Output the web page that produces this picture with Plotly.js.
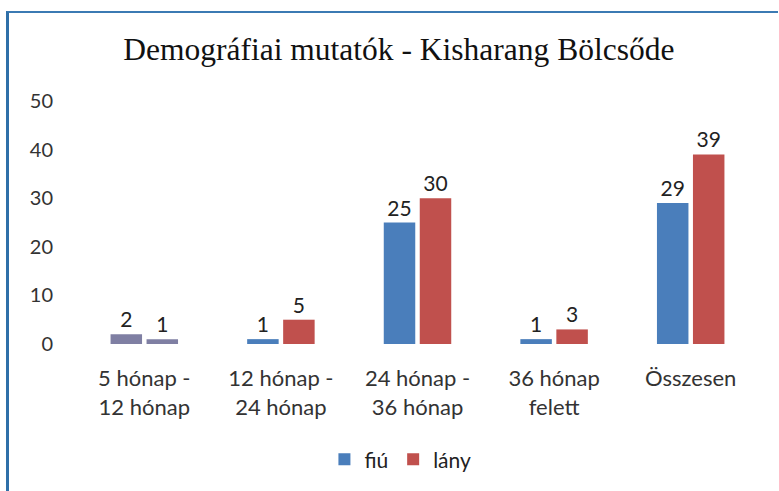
<!DOCTYPE html>
<html>
<head>
<meta charset="utf-8">
<script src="https://cdn.plot.ly/plotly-3.0.1.min.js"></script>
<style>
html,body{margin:0;padding:0;background:#fff;}
#wrap{position:relative;width:779px;height:491px;overflow:hidden;}
#frame{position:absolute;left:6px;top:11px;width:772px;height:490px;border-left:3px solid #2f6fa8;border-top:2px solid #3b7ab3;box-sizing:border-box;}
#chart{position:absolute;left:0;top:0;width:779px;height:491px;}
</style>
</head>
<body>
<div id="wrap"><div id="frame"></div><div id="chart"></div></div>
<script>
const categories = ["5 hónap -<br>12 hónap", "12 hónap -<br>24 hónap", "24 hónap -<br>36 hónap", "36 hónap<br>felett", "Összesen"];
const fiu = [2, 1, 25, 1, 29];
const lany = [1, 5, 30, 3, 39];
const seriesNames = ["fiú", "lány"];
const titleText = "Demográfiai mutatók - Kisharang Bölcsőde";

const blue = "#4a7ebb", red = "#c0504d", gray = "#7f7fa3";
const fiuColors = fiu.map((v, i) => i === 0 ? gray : blue);
const lanyColors = lany.map((v, i) => i === 0 ? gray : red);
const fam = "Lato, 'Open Sans', sans-serif";
const lblFont = {family: fam, size: 21, color: "#222"};

const traces = [
  {type: "bar", name: seriesNames[0], x: categories, y: fiu, marker: {color: fiuColors},
   text: fiu.map(String), textposition: "outside", textfont: lblFont, cliponaxis: false,
   hoverinfo: "none", showlegend: false},
  {type: "bar", name: seriesNames[1], x: categories, y: lany, marker: {color: lanyColors},
   text: lany.map(String), textposition: "outside", textfont: lblFont, cliponaxis: false,
   hoverinfo: "none", showlegend: false},
  // legend entries (on a hidden overlay axis so they don't affect bar grouping)
  {type: "bar", name: seriesNames[0], x: [categories[0]], y: [null], marker: {color: blue},
   xaxis: "x2", yaxis: "y2", hoverinfo: "none"},
  {type: "bar", name: seriesNames[1], x: [categories[0]], y: [null], marker: {color: red},
   xaxis: "x2", yaxis: "y2", hoverinfo: "none"}
];

const layout = {
  width: 779, height: 491,
  paper_bgcolor: "rgba(0,0,0,0)", plot_bgcolor: "rgba(0,0,0,0)",
  margin: {l: 75.6, r: 19.6, t: 101, b: 146},
  title: {text: titleText, x: 0.512, xanchor: "center", y: 0.9, yanchor: "middle",
          font: {family: "'Liberation Serif', 'Times New Roman', serif", size: 31.5, color: "#111"}},
  barmode: "group", bargap: 0.473, bargroupgap: 0.125,
  xaxis: {showline: false, showgrid: false, zeroline: false, ticks: "", ticklabelstandoff: 19,
          tickfont: {family: fam, size: 22, color: "#333"}},
  yaxis: {range: [0, 50], dtick: 10, showgrid: false, zeroline: false, showline: false, ticks: "",
          ticklabelstandoff: 22,
          tickfont: {family: fam, size: 20, color: "#333"}},
  xaxis2: {overlaying: "x", visible: false},
  yaxis2: {overlaying: "y", visible: false, range: [0, 50]},
  showlegend: true,
  legend: {orientation: "h", x: 0.475, xanchor: "center", y: -0.47, yanchor: "middle",
           font: {family: fam, size: 21, color: "#222"},
           itemwidth: 30, traceorder: "normal"}
};

Plotly.newPlot("chart", traces, layout, {displayModeBar: false, staticPlot: true});
</script>
</body>
</html>
